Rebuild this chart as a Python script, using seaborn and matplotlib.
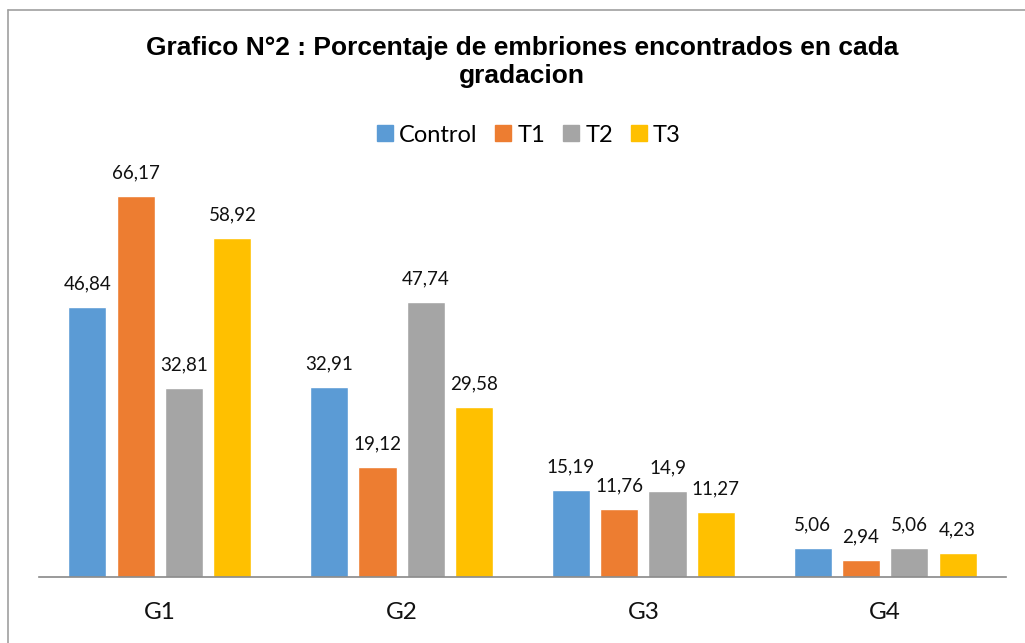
import pandas as pd
import matplotlib
matplotlib.use("Agg")
import matplotlib.pyplot as plt
from matplotlib.lines import Line2D
import seaborn as sns

# Data
grades = ["G1", "G2", "G3", "G4"]
series = ["Control", "T1", "T2", "T3"]
control = [46.84, 32.91, 15.19, 5.06]
t1 = [66.17, 19.12, 11.76, 2.94]
t2 = [32.81, 47.74, 14.9, 5.06]
t3 = [58.92, 29.58, 11.27, 4.23]
colors = ["#5B9BD5", "#ED7D31", "#A5A5A5", "#FFC000"]

df = pd.DataFrame({"Control": control, "T1": t1, "T2": t2, "T3": t3}, index=grades)
df = df.reset_index().rename(columns={"index": "grado"})
long_df = df.melt(id_vars="grado", var_name="serie", value_name="pct")

sns.set_theme(style="white")
plt.rcParams["font.family"] = ["Lato", "DejaVu Sans"]
plt.rcParams["text.color"] = "black"

fig = plt.figure(figsize=(10.25, 6.43), dpi=100)
ax = fig.add_axes([39 / 1025, 1 - 577 / 643, 967 / 1025, 70 * 5.76 / 643])

sns.barplot(data=long_df, x="grado", y="pct", hue="serie", hue_order=series,
            palette=colors, width=0.8, gap=0.21, saturation=1, ax=ax, legend=False)

# value labels with decimal comma
for cont, vals in zip(ax.containers, [control, t1, t2, t3]):
    labels = [str(v).replace(".", ",") for v in vals]
    ax.bar_label(cont, labels=labels, padding=10.5, fontsize=13.5, color="#111111")

ax.set_xlim(-0.5, 3.5)
ax.set_ylim(0, 70)
ax.set_xlabel("")
ax.set_ylabel("")
ax.set_yticks([])
ax.tick_params(axis="x", length=0, pad=18, labelsize=17.5, labelcolor="#111111")
for side in ["top", "right", "left"]:
    ax.spines[side].set_visible(False)
ax.spines["bottom"].set_color("#898989")
ax.spines["bottom"].set_linewidth(1.2)

fig.text(0.509, 1 - 62 / 643, "Grafico N°2 : Porcentaje de embriones encontrados en cada\ngradacion",
         ha="center", va="center", fontsize=19, fontweight="bold", color="black",
         family="Liberation Sans", linespacing=1.2)

handles = [Line2D([], [], marker="s", linestyle="", markersize=11, color=c) for c in colors]
fig.legend(handles, series, loc="center", bbox_to_anchor=(0.514, 1 - 135 / 643),
           ncol=4, frameon=False, fontsize=17, handletextpad=0.1, columnspacing=0.6,
           handlelength=1.0)

# chart border (only top and left edges are visible in the reference)
fig.add_artist(Line2D([8 / 1025, 1], [1 - 10 / 643, 1 - 10 / 643], color="#A0A0A0", lw=1.2,
                      transform=fig.transFigure))
fig.add_artist(Line2D([8 / 1025, 8 / 1025], [0, 1 - 10 / 643], color="#A0A0A0", lw=1.2,
                      transform=fig.transFigure))

fig.savefig("out.png", dpi=100)
